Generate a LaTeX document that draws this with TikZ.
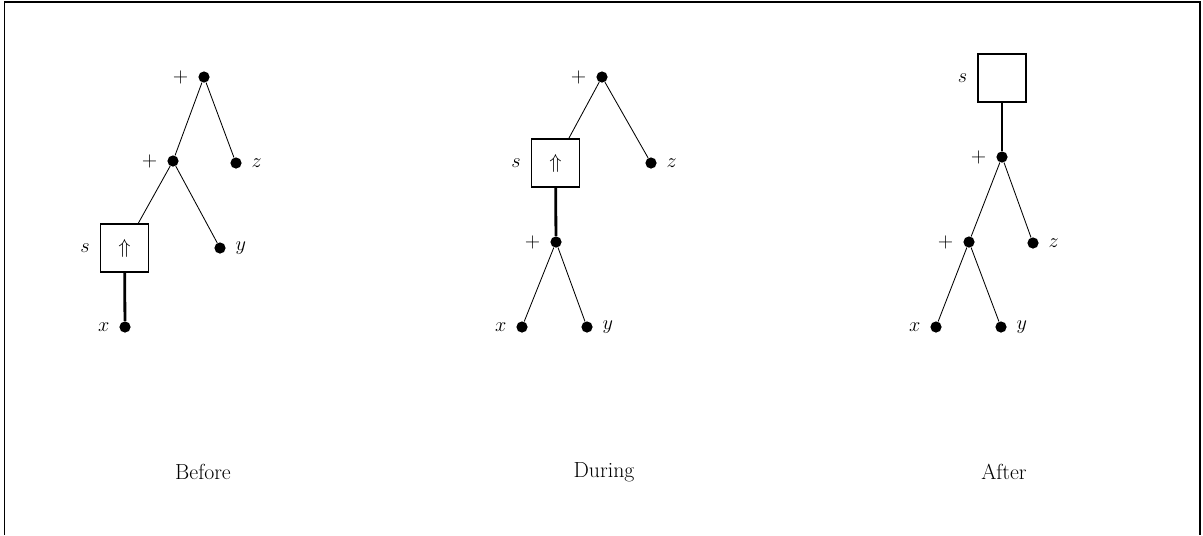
\documentclass[tikz,border=0pt]{standalone}
\usepackage{amsmath, amssymb}
\usetikzlibrary{positioning}

\begin{document}
\begin{tikzpicture}[
    x=0.025cm, y=-0.025cm,
    font=\Large,
    dot/.style={circle, fill=black, inner sep=0pt, minimum size=0.28cm},
    hole/.style={rectangle, draw=black, line width=1.3pt, minimum size=1.2cm, inner sep=0pt},
    edge/.style={line width=0.6pt},
    link/.style={line width=2pt},
    tag/.style={label distance=0.12cm},
    caption/.style={font=\fontsize{15.5}{18}\selectfont}
]
    \useasboundingbox (0,0) rectangle (1203,535);

    % Frame
    \draw[line width=1.4pt] (4.5,535) |- (1200,2) -- (1200,535);

    % Before
    \node[dot, label={[tag]left:$+$}] (b1) at (204,77) {};
    \node[dot, label={[tag]left:$+$}] (b2) at (173,161) {};
    \node[dot, label={[tag]right:$z$}] (bz) at (236,163) {};
    \node[hole, label={[tag]left:$s$}] (bs) at (124.5,248) {$\Uparrow$};
    \node[dot, label={[tag]right:$y$}] (by) at (220,248) {};
    \node[dot, label={[tag]left:$x$}] (bx) at (125,327) {};

    \draw[edge] (b1) -- (b2);
    \draw[edge] (b1) -- (bz);
    \draw[edge] (b2) -- (bs);
    \draw[edge] (b2) -- (by);
    \draw[link] (bs) -- (bx);

    \node[caption] (before) at (203,472) {Before};

    % During
    \node[dot, label={[tag]left:$+$}] (d1) at (602,77) {};
    \node[hole, label={[tag]left:$s$}] (ds) at (555.5,163) {$\Uparrow$};
    \node[dot, label={[tag]right:$z$}] (dz) at (651,163) {};
    \node[dot, label={[tag]left:$+$}] (d2) at (556,242) {};
    \node[dot, label={[tag]left:$x$}] (dx) at (522,327) {};
    \node[dot, label={[tag]right:$y$}] (dy) at (587,327) {};

    \draw[edge] (d1) -- (ds);
    \draw[edge] (d1) -- (dz);
    \draw[link] (ds) -- (d2);
    \draw[edge] (d2) -- (dx);
    \draw[edge] (d2) -- (dy);

    \node[caption] (during) at (604,472) {During};

    % After
    \node[hole, label={[tag]left:$s$}] (as) at (1002,78) {};
    \node[dot, label={[tag]left:$+$}] (a1) at (1002,157) {};
    \node[dot, label={[tag]left:$+$}] (a2) at (969,242) {};
    \node[dot, label={[tag]right:$z$}] (az) at (1033,243) {};
    \node[dot, label={[tag]left:$x$}] (ax) at (936,327) {};
    \node[dot, label={[tag]right:$y$}] (ay) at (1001,327) {};

    \draw[link] (as) -- (a1);
    \draw[edge] (a1) -- (a2);
    \draw[edge] (a1) -- (az);
    \draw[edge] (a2) -- (ax);
    \draw[edge] (a2) -- (ay);

    \node[caption] (after) at (1004,472) {After};
\end{tikzpicture}
\end{document}
